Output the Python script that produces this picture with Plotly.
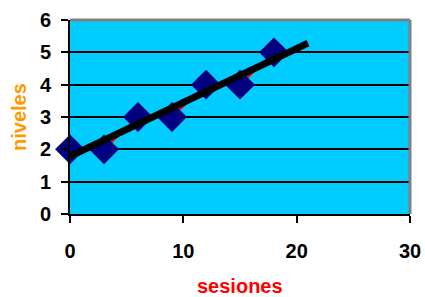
import numpy as np
import plotly.graph_objects as go

sesiones = [0, 3, 6, 9, 12, 15, 18]
niveles = [2, 2, 3, 3, 4, 4, 5]
x_ticks = [0, 10, 20, 30]
y_ticks = [0, 1, 2, 3, 4, 5, 6]
trend_x = [0, 21]

slope, intercept = np.polyfit(sesiones, niveles, 1)
trend_y = [intercept + slope * v for v in trend_x]

fig = go.Figure()
fig.add_trace(go.Scatter(x=sesiones, y=niveles, mode="lines+markers",
                         line=dict(color="#FF0000", width=2),
                         marker=dict(symbol="diamond", size=23, color="#000080"),
                         cliponaxis=False, showlegend=False))
fig.add_trace(go.Scatter(x=trend_x, y=trend_y, mode="lines",
                         line=dict(color="#000000", width=7),
                         cliponaxis=False, showlegend=False))

fam = "Liberation Sans"
tickfont = dict(family=fam, size=20, color="black")
fig.update_layout(
    width=425, height=297,
    margin=dict(l=70, r=15, t=20, b=83),
    paper_bgcolor="white", plot_bgcolor="#00CCFF",
    font=dict(family=fam, size=20, color="black"),
    xaxis=dict(range=[0, 30], tickvals=x_ticks, ticktext=[f"<b>{v}</b>" for v in x_ticks],
               showgrid=False, zeroline=False, automargin=False,
               showline=True, linecolor="black", linewidth=2,
               ticks="outside", ticklen=7, tickwidth=2, tickcolor="black",
               ticklabelstandoff=11, tickfont=tickfont),
    yaxis=dict(range=[0, 6], tickvals=y_ticks, ticktext=[f"<b>{v}</b>" for v in y_ticks],
               showgrid=True, gridcolor="black", gridwidth=2, automargin=False,
               zeroline=False, showline=True, linecolor="black", linewidth=2,
               ticks="outside", ticklen=7, tickwidth=2, tickcolor="black",
               ticklabelstandoff=6, tickfont=tickfont),
    annotations=[
        dict(text="<b>sesiones</b>", xref="paper", yref="paper", x=0.5, y=0,
             xanchor="center", yanchor="middle", yshift=-72, showarrow=False,
             font=dict(family=fam, color="#FF0000", size=20)),
        dict(text="<b>niveles</b>", xref="paper", yref="paper", x=0, y=0.5,
             xanchor="center", yanchor="middle", xshift=-51, textangle=-90, showarrow=False,
             font=dict(family=fam, color="#FF9900", size=20)),
    ],
    shapes=[
        dict(type="line", xref="x domain", yref="y domain", x0=0, x1=1, y0=1, y1=1,
             line=dict(color="#808080", width=3), layer="above"),
        dict(type="line", xref="x domain", yref="y domain", x0=1, x1=1, y0=0, y1=1,
             line=dict(color="#808080", width=3), layer="above"),
    ],
)
fig.write_html("out.html", config={"displayModeBar": False},
               post_script="document.body.style.margin='0';document.body.style.overflow='hidden';")
